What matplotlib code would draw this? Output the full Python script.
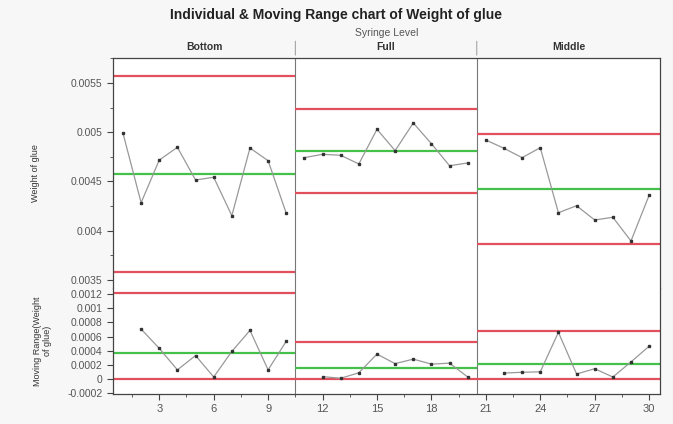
import numpy as np
import matplotlib
matplotlib.use('Agg')
import matplotlib.pyplot as plt
from matplotlib.ticker import FixedLocator, MultipleLocator

plt.rcParams['font.family'] = ['Liberation Sans', 'DejaVu Sans']

# weight of glue per sample, grouped by syringe level
levels = ['Bottom', 'Full', 'Middle']
weight_bottom = [0.00499, 0.004285, 0.004718, 0.004847, 0.004515,
                 0.004543, 0.004153, 0.00484, 0.004711, 0.004177]
weight_full = [0.004742, 0.004776, 0.004766, 0.004678, 0.00503,
               0.004813, 0.005094, 0.004884, 0.00466, 0.004688]
weight_middle = [0.004921, 0.004837, 0.004742, 0.004843, 0.004183,
                 0.004254, 0.004109, 0.004137, 0.003896, 0.00436]
weights = [weight_bottom, weight_full, weight_middle]

top_ticks = [0.0035, 0.004, 0.0045, 0.005, 0.0055]
top_labels = ['0.0035', '0.004', '0.0045', '0.005', '0.0055']
mr_ticks = [-0.0002, 0, 0.0002, 0.0004, 0.0006, 0.0008, 0.001, 0.0012]
mr_labels = ['-0.0002', '0', '0.0002', '0.0004', '0.0006', '0.0008', '0.001', '0.0012']
x_ticks = [3, 6, 9, 12, 15, 18, 21, 24, 27, 30]

RED = '#e2505e'
GREEN = '#45c04a'
GRAY = '#555555'

fig = plt.figure(figsize=(6.73, 4.24), dpi=100, facecolor='#f7f7f7')
ax1 = fig.add_axes([0.1679, 0.3208, 0.8128, 0.5425])
ax2 = fig.add_axes([0.1679, 0.0708, 0.8128, 0.25], sharex=ax1)

edges = [0.45, 10.5, 20.5, 30.6]
start = 1
for i, w in enumerate(weights):
    w = np.array(w)
    x = np.arange(start, start + len(w))
    mr = np.abs(np.diff(w))
    mr_bar = mr.mean()
    center = w.mean()
    ucl = center + 2.66 * mr_bar
    lcl = center - 2.66 * mr_bar
    x0, x1 = edges[i], edges[i + 1]
    # individuals chart
    ax1.hlines([ucl, lcl], x0, x1, colors=RED, lw=1.6, zorder=2)
    ax1.hlines(center, x0, x1, colors=GREEN, lw=1.6, zorder=2)
    ax1.plot(x, w, color='#999999', lw=0.9, marker='s', ms=2.0,
             mfc='#333333', mec='#333333', zorder=3)
    # moving range chart
    ax2.hlines([3.267 * mr_bar, 0], x0, x1, colors=RED, lw=1.6, zorder=2)
    ax2.hlines(mr_bar, x0, x1, colors=GREEN, lw=1.6, zorder=2)
    ax2.plot(x[1:], mr, color='#999999', lw=0.9, marker='s', ms=2.0,
             mfc='#333333', mec='#333333', zorder=3)
    start += len(w)

for ax in (ax1, ax2):
    for xv in edges[1:-1]:
        ax.axvline(xv, color='#777777', lw=0.8, zorder=1)
    for s in ax.spines.values():
        s.set_color('#444444')
        s.set_linewidth(0.9)
    ax.tick_params(axis='y', labelsize=7.5, labelcolor=GRAY, color='#444444',
                   length=4, width=0.8)

ax1.set_xlim(edges[0], edges[-1])
ax1.set_ylim(0.003419, 0.005754)
ax1.yaxis.set_major_locator(FixedLocator(top_ticks))
ax1.set_yticklabels(top_labels)
ax1.yaxis.set_minor_locator(MultipleLocator(0.00025))
ax1.tick_params(axis='y', which='minor', length=2.5, color='#444444')
ax1.spines['bottom'].set_visible(False)
ax1.tick_params(axis='x', bottom=False, labelbottom=False)

ax2.set_ylim(-0.000212, 0.001287)
ax2.yaxis.set_major_locator(FixedLocator(mr_ticks))
ax2.set_yticklabels(mr_labels)
ax2.spines['top'].set_visible(False)
ax2.xaxis.set_major_locator(FixedLocator(x_ticks))
ax2.xaxis.set_minor_locator(MultipleLocator(1.5))
ax2.tick_params(axis='x', which='major', labelsize=8, labelcolor=GRAY,
                color='#444444', length=4, width=0.8)
ax2.tick_params(axis='x', which='minor', length=2.5, color='#444444')

ax1.set_ylabel('Weight of glue', fontsize=6.5, color='#333333', labelpad=22)
ax2.set_ylabel('Moving Range(Weight\nof glue)', fontsize=6.5, color='#333333',
               labelpad=11, linespacing=1.1)

# header strip with the syringe level groups
fig.text(0.5, 0.964, 'Individual & Moving Range chart of Weight of glue',
         ha='center', va='center', fontsize=10, fontweight='bold', color='#222222')
fig.text(0.574, 0.922, 'Syringe Level', ha='center', va='center',
         fontsize=7.5, color=GRAY)
for i, name in enumerate(levels):
    xm = (edges[i] + edges[i + 1]) / 2
    ax1.annotate(name, xy=(xm, 1), xycoords=('data', 'axes fraction'),
                 xytext=(0, 8), textcoords='offset points', ha='center',
                 va='center', fontsize=7.5, fontweight='bold', color='#333333')
for xv in edges[1:-1]:
    ax1.annotate('', xy=(xv, 1), xycoords=('data', 'axes fraction'),
                 xytext=(xv, 1.085), textcoords=('data', 'axes fraction'),
                 arrowprops=dict(arrowstyle='-', color='#999999', lw=0.7))

fig.savefig('out.png', dpi=100, facecolor=fig.get_facecolor())
